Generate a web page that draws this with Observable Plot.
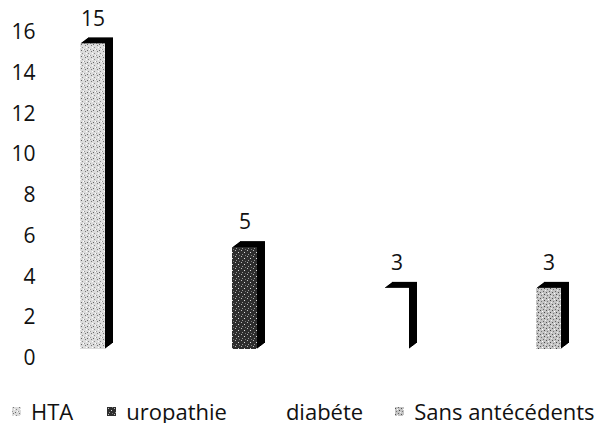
<!DOCTYPE html>
<html><head><meta charset="utf-8">
<script src="https://cdn.jsdelivr.net/npm/d3@7"></script>
<script src="https://cdn.jsdelivr.net/npm/@observablehq/plot@0.6"></script>
<style>
body{margin:0;background:#fff;font-family:"Open Sans","Noto Sans",sans-serif;overflow:hidden;}
#chart{position:relative;width:608px;}
.legend{display:flex;align-items:center;font-size:22px;line-height:24px;height:24px;color:#111;margin-top:27px;padding-left:12px;white-space:nowrap;}
.legend .item{display:flex;align-items:center;flex:none;}
.legend svg{margin-right:10px;flex:none;}
</style></head>
<body><div id="chart"></div>
<script>
const categories = ["HTA","uropathie","diabéte","Sans antécédents"];
const values = [15,5,3,3];
const fills = ["url(#pHTA)","url(#pURO)","#ffffff","url(#pSANS)"];
const yTicks = [0,2,4,6,8,10,12,14,16];

const data = categories.map((c,i)=>({cat:c,v:values[i],fill:fills[i]}));

const defs = `<defs>
<pattern id="pHTA" width="6" height="6" patternUnits="userSpaceOnUse">
<rect width="6" height="6" fill="#dcdcdc"/>
<rect x="1" y="0" width="1" height="1" fill="#777"/><rect x="4" y="2" width="1" height="1" fill="#888"/>
<rect x="0" y="4" width="1" height="1" fill="#999"/><rect x="3" y="5" width="1" height="1" fill="#666"/>
<rect x="5" y="4" width="1" height="1" fill="#fff"/><rect x="2" y="2" width="1" height="1" fill="#fff"/>
</pattern>
<pattern id="pURO" width="6" height="6" patternUnits="userSpaceOnUse">
<rect width="6" height="6" fill="#2e2e2e"/>
<rect x="1" y="1" width="1" height="1" fill="#bbb"/><rect x="4" y="3" width="1" height="1" fill="#ddd"/>
<rect x="2" y="5" width="1" height="1" fill="#999"/><rect x="5" y="0" width="1" height="1" fill="#777"/>
</pattern>
<pattern id="pSANS" width="6" height="6" patternUnits="userSpaceOnUse">
<rect width="6" height="6" fill="#c4c4c4"/>
<rect x="0" y="1" width="1" height="1" fill="#555"/><rect x="3" y="0" width="1" height="1" fill="#666"/>
<rect x="4" y="3" width="1" height="1" fill="#444"/><rect x="1" y="4" width="1" height="1" fill="#777"/>
<rect x="2" y="2" width="1" height="1" fill="#fff"/><rect x="5" y="5" width="1" height="1" fill="#eee"/>
</pattern>
</defs>`;

// depth layers for the 3D side/top faces (style only)
const depth = [1,2,3,4,5,6,7,8];
const frontDy = -9;

const chart = Plot.plot({
  width: 608,
  height: 372,
  marginTop: 32,
  marginBottom: 14,
  marginLeft: 50,
  marginRight: 18,
  style: {fontFamily: "'Open Sans', 'Noto Sans', sans-serif", fontSize: "21px", color: "#111", background: "#fff"},
  x: {domain: categories, paddingInner: 0.836, paddingOuter: 0.187, axis: null},
  y: {domain: [0,16], ticks: yTicks, tickSize: 0, tickPadding: 15, label: null, tickFormat: d3.format("d")},
  marks: [
    ...depth.map(k => Plot.barY(data, {x: "cat", y: "v", fill: "#000", inset: 0, dx: k, dy: frontDy - k * 0.75})),
    Plot.barY(data, {x: "cat", y: "v", fill: "fill", inset: 0, dy: frontDy}),
    Plot.text(data, {x: "cat", y: "v", text: d => String(d.v), dy: -34, fontSize: 21, fill: "#111"})
  ]
});
chart.insertAdjacentHTML("afterbegin", defs);
document.getElementById("chart").appendChild(chart);

const legend = document.createElement("div");
legend.className = "legend";
const gaps = [34, 40, 32, 0];
categories.forEach((c,i)=>{
  const it = document.createElement("div");
  it.className = "item";
  it.style.marginRight = gaps[i] + "px";
  it.innerHTML = `<svg width="9" height="9"><rect width="9" height="9" fill="${fills[i]}"/></svg><span>${c}</span>`;
  legend.appendChild(it);
});
document.getElementById("chart").appendChild(legend);
</script></body></html>
